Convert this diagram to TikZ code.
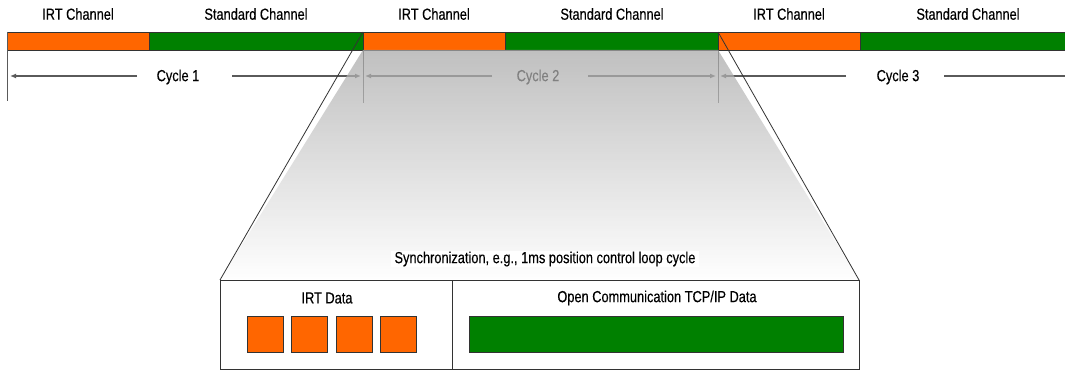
\documentclass[tikz,border=0pt]{standalone}
\usepackage{fontspec}
\setmainfont{Liberation Sans}[FakeStretch=0.8,FakeBold=0.3]
\usetikzlibrary{arrows.meta}
\definecolor{irtorange}{HTML}{FF6600}
\definecolor{stdgreen}{HTML}{008000}
\definecolor{cycgray}{HTML}{5A5A5A}
\definecolor{edgegray}{HTML}{333333}
\begin{document}
\begin{tikzpicture}[x=1pt,y=1pt,
  seg/.style={draw=edgegray, line width=0.9pt, inner sep=0pt, outer sep=0pt, minimum height=18pt, anchor=north west},
  irt/.style={seg, fill=irtorange, minimum width=142pt},
  std/.style={seg, fill=stdgreen},
  lbl/.style={font=\fontsize{16}{18}\selectfont, text=black, inner sep=1pt},
  cycline/.style={draw=cycgray, line width=1.8pt},
  cyctip/.style={-{Latex[length=6pt,width=5pt]}},
  tickline/.style={draw=cycgray, line width=0.8pt},
  slant/.style={draw=edgegray, line width=0.8pt},
  pkt/.style={draw=edgegray, line width=0.8pt, fill=irtorange, inner sep=0pt, minimum width=36pt, minimum height=36pt, anchor=north west},
  boxline/.style={draw=edgegray, line width=0.9pt}
]
\useasboundingbox (0,0) rectangle (1065,370);
\fill[white] (0,0) rectangle (1065,370);

% channel labels
\node[lbl] (l1) at (78,356) {IRT Channel};
\node[lbl] (l2) at (256,356) {Standard Channel};
\node[lbl] (l3) at (434,356) {IRT Channel};
\node[lbl] (l4) at (612,356) {Standard Channel};
\node[lbl] (l5) at (789,356) {IRT Channel};
\node[lbl] (l6) at (968,356) {Standard Channel};

% tick ends
\coordinate (tk0) at (7,269);
\coordinate (tk1) at (363,267);
\coordinate (tk2) at (718,267);

% cycle labels and lines
\node[lbl] (c1) at (178,293) {Cycle 1};
\node[lbl] (c2) at (538,293) {Cycle 2};
\node[lbl] (c3) at (898,293) {Cycle 3};
\coordinate (c1a) at (137,294); \coordinate (c1b) at (10,294);
\coordinate (c1c) at (232,294); \coordinate (c1d) at (361,294);
\coordinate (c2a) at (492,294); \coordinate (c2b) at (365,294);
\coordinate (c2c) at (588,294); \coordinate (c2d) at (716,294);
\coordinate (c3a) at (846,294); \coordinate (c3b) at (720,294);
\coordinate (c3c) at (944,294); \coordinate (c3d) at (1070,294);
\draw[cycline, cyctip] (c1a) -- (c1b);
\draw[cycline, cyctip] (c1c) -- (c1d);
\draw[cycline, cyctip] (c2a) -- (c2b);
\draw[cycline, cyctip] (c2c) -- (c2d);
\draw[cycline, cyctip] (c3a) -- (c3b);
\draw[cycline] (c3c) -- (c3d);

% bar segments
\node[irt] (i1) at (7,338) {};
\node[std, minimum width=214pt] (s1) at (149,338) {};
\node[irt] (i2) at (363,338) {};
\node[std, minimum width=213pt] (s2) at (505,338) {};
\node[irt] (i3) at (718,338) {};
\node[std, minimum width=215pt] (s3) at (860,338) {};

% ticks
\draw[tickline] (i1.north west) -- (tk0);
\draw[tickline] (i2.south west) -- (tk1);
\draw[tickline] (i3.south west) -- (tk2);

% zoom trapezoid
\coordinate (zl) at (220,90);
\coordinate (zr) at (859,90);
\begin{scope}[transparency group, opacity=0.72]
\shade[top color=black!34, middle color=black!19, bottom color=white]
  (i2.south west) -- (i3.south west) -- (zr) -- (zl) -- cycle;
\end{scope}
\draw[slant] (i2.north west) -- (zl);
\draw[slant] (i3.north west) -- (zr);

\node[lbl, fill=white, inner xsep=4pt] (sync) at (545,111) {Synchronization, e.g., 1ms position control loop cycle};

% lower box
\node[boxline, fill=white, inner sep=0pt, outer sep=0pt, anchor=north west, minimum width=232pt, minimum height=89pt] (irtbox) at (220,90) {};
\node[boxline, fill=white, inner sep=0pt, outer sep=0pt, anchor=north west, minimum width=407pt, minimum height=89pt] (tcpbox) at (452,90) {};
\node[lbl] (irtlbl) at (327,72) {IRT Data};
\node[lbl] (tcplbl) at (657,72) {Open Communication TCP/IP Data};
\node[pkt] (p1) at (247,54) {};
\node[pkt] (p2) at (291,54) {};
\node[pkt] (p3) at (336,54) {};
\node[pkt] (p4) at (380,54) {};
\node[pkt, fill=stdgreen, minimum width=374pt] (tcp) at (469,54) {};
\end{tikzpicture}
\end{document}
